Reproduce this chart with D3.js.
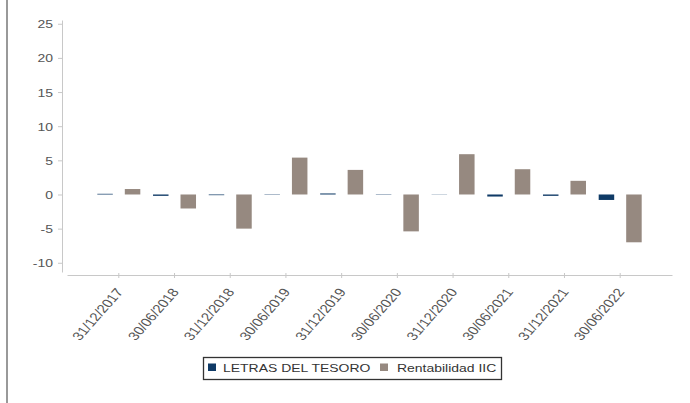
<!DOCTYPE html>
<html>
<head>
<meta charset="utf-8">
<script src="https://cdn.jsdelivr.net/npm/d3@7"></script>
<style>
  html, body { margin: 0; padding: 0; background: #fff; }
  svg { display: block; }
  text { font-family: "Liberation Sans", Arial, sans-serif; }
</style>
</head>
<body>
<svg id="chart" width="690" height="403"></svg>
<script>
const categories = ["31/12/2017","30/06/2018","31/12/2018","30/06/2019","31/12/2019","30/06/2020","31/12/2020","30/06/2021","31/12/2021","30/06/2022"];
const letrasDelTesoro = [0.1, -0.2, -0.1, 0.05, 0.15, 0.05, 0.03, -0.3, -0.2, -0.8];
const rentabilidadIIC = [0.8, -2.05, -5.0, 5.4, 3.6, -5.4, 5.9, 3.7, 2.0, -7.0];
const yTickValues = [-10, -5, 0, 5, 10, 15, 20, 25];
const seriesNames = ["LETRAS DEL TESORO", "Rentabilidad IIC"];
const seriesColors = ["#0f3a66", "#968980"];

const SX = 1.27; // horizontal stretch of the reference text
const svg = d3.select("#chart");

// frame line on the left
svg.append("line").attr("x1", 7).attr("x2", 7).attr("y1", 0).attr("y2", 403)
  .attr("stroke", "#555").attr("stroke-width", 1.2);

const y = d3.scaleLinear().domain([-11.35, 25.55]).range([272, 20]);
const x = d3.scaleBand().domain(categories).range([67, 672]).paddingInner(0).paddingOuter(0.43);
const xs = d3.scaleBand().domain([0, 1]).range([-21.5, 21.5]).paddingInner(0.436);

// Y axis
const yAxis = svg.append("g").attr("transform", "translate(62,0)")
  .call(d3.axisLeft(y).tickValues(yTickValues).tickSize(4).tickSizeOuter(0).tickFormat(d3.format("d")));
yAxis.select(".domain").attr("stroke", "#c8c8c8");
yAxis.selectAll(".tick line").attr("stroke", "#c8c8c8");
yAxis.selectAll(".tick text").remove();
yAxis.selectAll(".tick").append("text")
  .attr("text-anchor", "end")
  .attr("transform", "translate(-9,4) scale(" + SX + ",1)")
  .attr("fill", "#555").style("font-size", "11px")
  .text(d => d);

// X axis
const xAxis = svg.append("g").attr("transform", "translate(0,275)")
  .call(d3.axisBottom(x).tickSize(3).tickSizeOuter(0));
xAxis.select(".domain").attr("stroke", "#c8c8c8");
xAxis.selectAll(".tick line").attr("stroke", "#c8c8c8").attr("y1", -2);
xAxis.selectAll(".tick text").remove();
xAxis.selectAll(".tick").append("text")
  .attr("text-anchor", "end")
  .attr("transform", "translate(5,17) scale(" + SX + ",1) rotate(-55)")
  .attr("fill", "#555").style("font-size", "12px")
  .text(d => d);

// Bars
const rows = categories.map((c, i) => ({ c, vals: [letrasDelTesoro[i], rentabilidadIIC[i]] }));
const groups = svg.append("g").selectAll("g").data(rows).join("g")
  .attr("transform", d => "translate(" + (x(d.c) + x.bandwidth() / 2) + ",0)");
groups.selectAll("rect").data(d => d.vals.map((v, k) => ({ v, k }))).join("rect")
  .attr("x", d => xs(d.k))
  .attr("width", xs.bandwidth())
  .attr("y", d => y(Math.max(0, d.v)))
  .attr("height", d => Math.abs(y(d.v) - y(0)))
  .attr("fill", d => seriesColors[d.k]);

// Legend
const lg = svg.append("g");
lg.append("rect").attr("x", 203.5).attr("y", 357.5).attr("width", 298).attr("height", 22)
  .attr("fill", "#fff").attr("stroke", "#333").attr("stroke-width", 1.3);
const legendPos = [{ sq: 208, tx: 223 }, { sq: 380, tx: 397 }];
seriesNames.forEach((name, k) => {
  lg.append("rect").attr("x", legendPos[k].sq).attr("y", 363.5).attr("width", 8).attr("height", 7.5)
    .attr("fill", seriesColors[k]);
  lg.append("text")
    .attr("transform", "translate(" + legendPos[k].tx + ",371.5) scale(" + SX + ",1)")
    .attr("fill", "#333").style("font-size", "11px")
    .text(name);
});
</script>
</body>
</html>
